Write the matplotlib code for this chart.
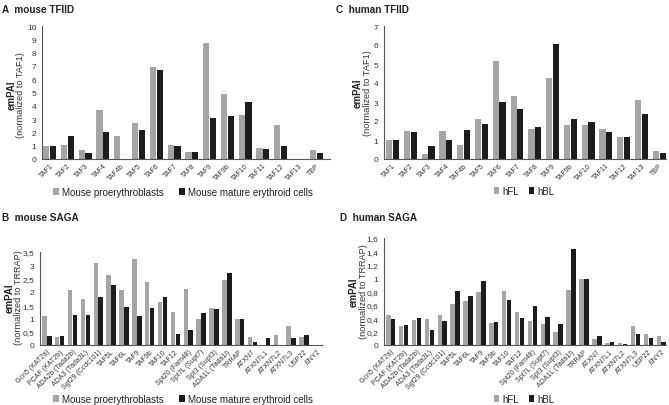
import matplotlib
matplotlib.use("Agg")
import matplotlib.pyplot as plt
import matplotlib.ticker as mtick
import numpy as np

plt.rcParams['font.family'] = ['Liberation Sans', 'DejaVu Sans']

tfiid = ["TAF1", "TAF2", "TAF3", "TAF4", "TAF4b", "TAF5", "TAF6", "TAF7", "TAF8",
         "TAF9", "TAF9b", "TAF10", "TAF11", "TAF12", "TAF13", "TBP"]
saga = ["Gcn5 (KAT2a)", "PCAF (KAT2b)", "ADA2b (Tada2b)", "ADA3 (Tada3L)", "Sgf29 (Ccdc101)",
        "TAF5L", "TAF6L", "TAF9", "TAF9b", "TAF10", "TAF12", "Spt20 (Fam48)",
        "Spt7L (Supt7)", "Spt3 (Supt3)", "ADA1L (Tada1l)", "TRRAP", "ATXN7", "ATXN7L1",
        "ATXN7L2", "ATXN7L3", "USP22", "ENY2"]

# A: mouse TFIID
mouse_pro_tfiid = [0.95, 1.05, 0.65, 3.7, 1.7, 2.7, 6.95, 1.05, 0.55, 8.75, 4.85, 3.3, 0.8, 2.55, 0, 0.65]
mouse_mat_tfiid = [0.95, 1.75, 0.45, 2.05, 0, 2.15, 6.7, 0.95, 0.5, 3.1, 3.25, 4.3, 0.75, 1.0, 0, 0.45]
# C: human TFIID
hfl_tfiid = [1.0, 1.47, 0.28, 1.47, 0.72, 2.1, 5.15, 3.3, 1.6, 4.25, 1.78, 1.8, 1.57, 1.15, 3.1, 0.4]
hbl_tfiid = [1.0, 1.42, 0.67, 1.0, 1.52, 1.85, 3.0, 2.62, 1.68, 6.03, 2.13, 1.95, 1.42, 1.17, 2.35, 0.3]
# B: mouse SAGA
mouse_pro_saga = [1.08, 0.3, 2.08, 1.75, 3.1, 2.62, 2.07, 3.25, 2.38, 1.6, 1.23, 2.1,
                  0.97, 1.4, 2.43, 0.98, 0.3, 0, 0.38, 0.72, 0.3, 0]
mouse_mat_saga = [0.33, 0.35, 1.13, 1.12, 1.8, 2.25, 1.42, 1.1, 1.38, 1.82, 0.43, 0.55,
                  1.2, 1.35, 2.7, 0.98, 0.1, 0.27, 0, 0.27, 0.38, 0]
# D: human SAGA
hfl_saga = [0.45, 0.29, 0.37, 0.39, 0.45, 0.62, 0.66, 0.80, 0.33, 0.81, 0.50, 0.36,
            0.31, 0.20, 0.82, 0.99, 0.09, 0.03, 0.03, 0.28, 0.17, 0.14]
hbl_saga = [0.39, 0.30, 0.41, 0.22, 0.36, 0.81, 0.73, 0.96, 0.34, 0.67, 0.40, 0.59,
            0.42, 0.32, 1.44, 0.99, 0.13, 0.05, 0.02, 0.17, 0.10, 0.04]

GRAY = "#a5a5a5"
BLACK = "#1c1c1c"
W, H = 669, 406

fig = plt.figure(figsize=(W / 100, H / 100), dpi=100)


def px_axes(left, right, top, bottom):
    return fig.add_axes([left / W, 1 - bottom / H, (right - left) / W, (bottom - top) / H])


def comma_fmt(v, pos):
    return f"{v:g}".replace(".", ",")


def panel(ax, cats, s1, s2, ymax, ystep, xlim, labels, legend_y, legend_x, colsp):
    x = np.arange(len(cats))
    w = 0.35
    b1 = ax.bar(x - 0.19, s1, w, color=GRAY, label=labels[0])
    b2 = ax.bar(x + 0.19, s2, w, color=BLACK, label=labels[1])
    ax.set_xlim(*xlim)
    ax.set_ylim(0, ymax)
    ax.yaxis.set_major_locator(mtick.MultipleLocator(ystep))
    ax.yaxis.set_major_formatter(mtick.FuncFormatter(comma_fmt))
    ax.set_xticks(x)
    ax.set_xticklabels(cats, rotation=45, ha="right", rotation_mode="anchor", fontsize=5,
                       color="#333333")
    ax.tick_params(axis="x", length=0, pad=2)
    ax.tick_params(axis="y", length=0, labelsize=6, labelcolor="#333333", pad=4)
    for s in ["top", "right"]:
        ax.spines[s].set_visible(False)
    for s in ["left", "bottom"]:
        ax.spines[s].set_color("#555555")
        ax.spines[s].set_linewidth(0.8)
    fig.legend(handles=[b1, b2], loc="center", bbox_to_anchor=(legend_x / W, 1 - legend_y / H),
               ncol=2, frameon=False, fontsize=7, handlelength=0.6, handleheight=0.6,
               handletextpad=0.3, columnspacing=colsp, labelcolor="#222222")


def ylabel(xe, xn, yc, norm):
    fig.text(xe / W, 1 - yc / H, "emPAI", rotation=90, fontsize=7, fontweight="bold",
             ha="center", va="center", color="#222222")
    fig.text(xn / W, 1 - yc / H, f"(normalized to {norm})", rotation=90, fontsize=6.6,
             ha="center", va="center", color="#333333")


axA = px_axes(42, 330, 27, 160)
panel(axA, tfiid, mouse_pro_tfiid, mouse_mat_tfiid, 10, 1, (-0.43, 15.77),
      ["Mouse proerythroblasts", "Mouse mature erythroid cells"], 193, 183, 1.6)
ylabel(12, 21, 95, "TAF1")

axC = px_axes(384, 666, 27, 160)
panel(axC, tfiid, hfl_tfiid, hbl_tfiid, 7, 1, (-0.48, 15.38), ["hFL", "hBL"], 192, 524, 1.0)
ylabel(358, 367, 93, "TAF1")

axB = px_axes(40, 322, 253, 346)
panel(axB, saga, mouse_pro_saga, mouse_mat_saga, 3.5, 0.5, (-0.53, 21.4),
      ["Mouse proerythroblasts", "Mouse mature erythroid cells"], 400, 183, 1.6)
ylabel(10, 19, 298, "TRRAP")

axD = px_axes(384, 666, 239, 346)
panel(axD, saga, hfl_saga, hbl_saga, 1.6, 0.2, (-0.52, 21.37), ["hFL", "hBL"], 400, 524, 1.0)
ylabel(354, 363, 292, "TRRAP")

for lbl, xx, yy in [("A  mouse TFIID", 2, 10), ("C  human TFIID", 336, 10),
                    ("B  mouse SAGA", 2, 218), ("D  human SAGA", 340, 218)]:
    fig.text(xx / W, 1 - yy / H, lbl, fontsize=7.2, fontweight="bold", va="center", ha="left",
             color="#222222")

fig.savefig("out.png", dpi=100)
